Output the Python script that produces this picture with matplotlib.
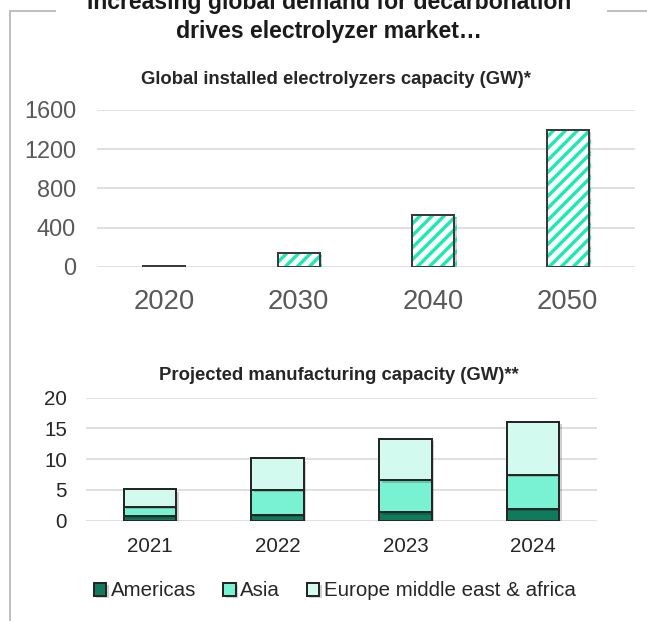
import matplotlib
matplotlib.use('Agg')
import matplotlib.pyplot as plt
import matplotlib.patheffects as pe
from matplotlib.lines import Line2D

# Global installed electrolyzers capacity (GW)
installYears = ['2020', '2030', '2040', '2050']
installedGW = [8, 140, 530, 1400]

# Projected manufacturing capacity (GW), stacked per region
mfgYears = ['2021', '2022', '2023', '2024']
americas = [0.7, 1.0, 1.4, 1.9]
asia = [1.6, 4.0, 5.2, 5.6]
emea = [2.8, 5.1, 6.7, 8.6]
regionLabels = ['Americas', 'Asia', 'Europe middle east & africa']

W, H = 647, 621
DPI = 72


def figY(px):
    return 1 - px / H


def mainexecution():
    plt.rcParams['font.family'] = ['Liberation Sans', 'DejaVu Sans']
    plt.rcParams['hatch.linewidth'] = 3.4
    fig = plt.figure(figsize=(W / DPI, H / DPI), dpi=DPI)

    # frame around the panel, broken by the title
    frameCol = '#bfbfbf'
    for xs, ys in [([10, 10], [10.7, 625]), ([10, 55], [10.7, 10.7]), ([608, 650], [10.7, 10.7])]:
        fig.add_artist(Line2D([x / W for x in xs], [figY(y) for y in ys],
                              color=frameCol, lw=2, transform=fig.transFigure))

    # titles (first line is cut by the top edge, as in the source)
    fig.text(329 / W, figY(9.5), 'Increasing global demand for decarbonation', ha='center',
             va='baseline', fontsize=23, fontweight='bold', color='#1a1a1a')
    fig.text(329 / W, figY(38), 'drives electrolyzer market\u2026', ha='center',
             va='baseline', fontsize=23, fontweight='bold', color='#1a1a1a')
    fig.text(335.5 / W, figY(84), 'Global installed electrolyzers capacity (GW)*', ha='center',
             va='baseline', fontsize=18.5, fontweight='bold', color='#262626')
    fig.text(339 / W, figY(379.5), 'Projected manufacturing capacity (GW)**', ha='center',
             va='baseline', fontsize=18.5, fontweight='bold', color='#262626')

    # top chart: hatched bars
    ax1 = fig.add_axes([97 / W, 1 - 266.7 / H, 538 / W, 156.7 / H])
    x1 = range(len(installYears))
    shadow = [pe.SimplePatchShadow(offset=(2.5, -2.5), shadow_rgbFace='k', alpha=0.18), pe.Normal()]
    hb = ax1.bar(x1, installedGW, width=0.31, color='white', edgecolor='#1de9b6',
                 hatch='//', linewidth=0, zorder=2)
    for p in hb:
        p.set_path_effects(shadow)
    ax1.bar(x1, installedGW, width=0.31, fill=False, edgecolor='#3a3a3a', linewidth=2, zorder=3)
    ax1.set_ylim(0, 1600)
    ax1.set_xlim(-0.5, 3.5)
    ax1.set_yticks([0, 400, 800, 1200, 1600])
    ax1.set_xticks(list(x1))
    ax1.set_xticklabels(installYears)
    ax1.tick_params(axis='y', length=0, pad=21, labelsize=23.5, labelcolor='#595959')
    ax1.tick_params(axis='x', length=0, pad=22, labelsize=27.5, labelcolor='#595959')
    styleAxis(ax1)

    # bottom chart: stacked bars
    ax2 = fig.add_axes([86 / W, 1 - 520.7 / H, 511 / W, 123.2 / H])
    x2 = range(len(mfgYears))
    colors = ['#0f7a5c', '#79f2d3', '#d3faee']
    bottom = [0] * len(mfgYears)
    handles = []
    for vals, col, lab in zip([americas, asia, emea], colors, regionLabels):
        bc = ax2.bar(x2, vals, width=0.41, bottom=bottom, color=col, edgecolor='#262626',
                     linewidth=2, label=lab, zorder=2)
        for p in bc:
            p.set_path_effects(shadow)
        handles.append(bc)
        bottom = [b + v for b, v in zip(bottom, vals)]
    ax2.set_ylim(0, 20)
    ax2.set_xlim(-0.5, 3.5)
    ax2.set_yticks([0, 5, 10, 15, 20])
    ax2.set_xticks(list(x2))
    ax2.set_xticklabels(mfgYears)
    ax2.tick_params(axis='y', length=0, pad=19, labelsize=20.5, labelcolor='#262626')
    ax2.tick_params(axis='x', length=0, pad=16, labelsize=20.5, labelcolor='#262626')
    styleAxis(ax2)

    fig.legend(handles=handles, labels=regionLabels, loc='center', bbox_to_anchor=(335 / W, figY(591)),
               ncol=3, frameon=False, fontsize=20.5, handlelength=0.6, handleheight=0.6,
               handletextpad=0.24, columnspacing=1.3, labelcolor='#262626')

    fig.savefig('out.png', dpi=DPI)


def styleAxis(ax):
    for s in ax.spines.values():
        s.set_visible(False)
    ax.set_axisbelow(True)
    ax.yaxis.grid(True, color='#d9d9d9', linewidth=1.6)
    ax.set_facecolor('none')


if __name__ == '__main__':
    mainexecution()
